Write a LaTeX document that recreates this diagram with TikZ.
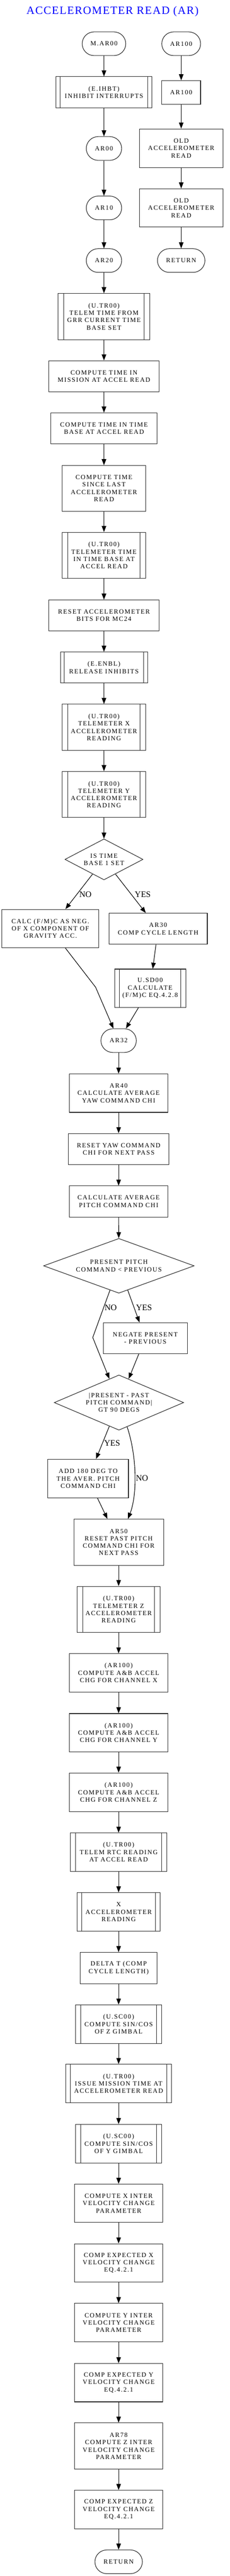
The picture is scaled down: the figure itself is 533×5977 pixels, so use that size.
\documentclass[tikz,border=0pt]{standalone}
\usepackage{fontspec}
\setmainfont{Liberation Serif}[LetterSpace=13]
\newfontfamily\lbfamily{Liberation Serif}
\newfontfamily\ttlfamily{Liberation Serif}[LetterSpace=7]
\usetikzlibrary{arrows.meta,shapes.geometric}
\definecolor{bord}{RGB}{40,40,40}
\definecolor{ttl}{RGB}{0,0,255}
\newcommand\bxfont{\fontsize{15}{17.1}\selectfont}
\newcommand\lbfont{\lbfamily\fontsize{19.5}{22}\selectfont}
\newcommand\ttlfont{\ttlfamily\fontsize{26}{30}\selectfont}
\tikzset{
  nbase/.style={draw=bord, line width=1.3pt, align=center, inner sep=0pt, font=\bxfont, text=black},
  pbox/.style={nbase, rectangle},
  tnode/.style={nbase, rectangle, rounded corners=27.5pt, minimum height=55pt},
  subr/.style={nbase, rectangle, path picture={
    \draw[bord, line width=1.3pt]
      ([xshift=#1]path picture bounding box.north west) -- ([xshift=#1]path picture bounding box.south west)
      ([xshift=-#1]path picture bounding box.north east) -- ([xshift=-#1]path picture bounding box.south east);}},
  dnode/.style={nbase, diamond},
  arr/.style={-{Triangle[length=14pt,width=10.5pt]}, line width=1.3pt, black},
  lab/.style={font=\lbfont, inner sep=0pt, text=black},
}
\begin{document}
\begin{tikzpicture}[x=1pt,y=-1pt]
\fill[white] (0,0) rectangle (533,5977);
\useasboundingbox (0,0) rectangle (533,5977);

\node[font=\ttlfont, text=ttl, anchor=base, inner sep=0pt] (title) at (261,32.3) {ACCELEROMETER READ (AR)};

% left column
\node[tnode, minimum width=101pt] (mar00) at (241,101.5) {M.AR00};
\node[subr=9pt, minimum width=222pt, minimum height=72pt] (ihbt) at (241,214) {(E.IHBT)\\INHIBIT INTERRUPTS};
\node[tnode, minimum width=82pt] (ar00) at (241,344.5) {AR00};
\node[tnode, minimum width=82pt] (ar10) at (241,482.5) {AR10};
\node[tnode, minimum width=82pt] (ar20) at (241,604.5) {AR20};
\node[subr=13pt, minimum width=212pt, minimum height=107pt] (telem1) at (241,734.5) {(U.TR00)\\TELEM TIME FROM\\GRR CURRENT TIME\\BASE SET};
\node[pbox, minimum width=256pt, minimum height=72pt] (cmis) at (241,873) {COMPUTE TIME IN\\MISSION AT ACCEL READ};
\node[pbox, minimum width=246pt, minimum height=72pt] (ctb) at (241,994) {COMPUTE TIME IN TIME\\BASE AT ACCEL READ};
\node[pbox, minimum width=194pt, minimum height=106pt] (csince) at (241,1133) {COMPUTE TIME\\SINCE LAST\\ACCELEROMETER\\READ};
\node[subr=13.5pt, minimum width=194pt, minimum height=107pt] (telem2) at (241,1288.5) {(U.TR00)\\TELEMETER TIME\\IN TIME BASE AT\\ACCEL READ};
\node[pbox, minimum width=256pt, minimum height=72pt] (reset) at (241,1428) {RESET ACCELEROMETER\\BITS FOR MC24};
\node[subr=9pt, minimum width=202pt, minimum height=72pt] (enbl) at (241,1549) {(E.ENBL)\\RELEASE INHIBITS};
\node[subr=13.5pt, minimum width=194pt, minimum height=107pt] (telx) at (241,1687.5) {(U.TR00)\\TELEMETER X\\ACCELEROMETER\\READING};
\node[subr=13.5pt, minimum width=194pt, minimum height=107pt] (tely) at (241,1843.5) {(U.TR00)\\TELEMETER Y\\ACCELEROMETER\\READING};
\node[dnode, aspect=1.9, minimum width=181pt, minimum height=95pt] (dtb) at (241,1994) {IS TIME\\BASE 1 SET};
\node[pbox, minimum width=224pt, minimum height=89pt] (calc) at (116.7,2154.5) {CALC (F/M)C AS NEG.\\OF X COMPONENT OF\\GRAVITY ACC.};
\node[pbox, minimum width=228pt, minimum height=72pt] (ar30) at (366.5,2155) {AR30\\COMP CYCLE LENGTH};
\node[subr=11pt, minimum width=165pt, minimum height=89pt] (usd) at (348,2293) {U.SD00\\CALCULATE\\(F/M)C EQ.4.2.8};
\node[tnode, minimum width=82pt] (ar32) at (275,2414.5) {AR32};

% right column
\node[tnode, minimum width=90pt] (ar100t) at (420,101.5) {AR100};
\node[pbox, minimum width=90pt, minimum height=55pt] (ar100b) at (420,214.5) {AR100};
\node[pbox, minimum width=194pt, minimum height=90pt] (old1) at (420,344) {OLD\\ACCELEROMETER\\READ};
\node[pbox, minimum width=194pt, minimum height=89pt] (old2) at (420,482.5) {OLD\\ACCELEROMETER\\READ};
\node[tnode, minimum width=110pt] (ret1) at (420,604.5) {RETURN};

% lower column
\node[pbox, minimum width=228pt, minimum height=89pt] (ar40) at (275,2536.3) {AR40\\CALCULATE AVERAGE\\YAW COMMAND CHI};
\node[pbox, minimum width=234pt, minimum height=72pt] (resyaw) at (275,2666) {RESET YAW COMMAND\\CHI FOR NEXT PASS};
\node[pbox, minimum width=228pt, minimum height=72pt] (calcp) at (275,2787.7) {CALCULATE AVERAGE\\PITCH COMMAND CHI};
\node[dnode, aspect=2.75, minimum width=349pt, minimum height=127pt] (dpp) at (275.5,2937) {PRESENT PITCH\\COMMAND < PREVIOUS};
\node[pbox, minimum width=195pt, minimum height=72pt] (neg) at (336.7,3105) {NEGATE PRESENT\\- PREVIOUS};
\node[dnode, aspect=2.34, minimum width=300pt, minimum height=128pt] (d90) at (275.7,3254.3) {|PRESENT - PAST\\PITCH COMMAND|\\GT 90 DEGS};
\node[pbox, minimum width=187pt, minimum height=89.8pt] (add180) at (204.2,3430.7) {ADD 180 DEG TO\\THE AVER. PITCH\\COMMAND CHI};
\node[pbox, minimum width=208pt, minimum height=107pt] (ar50) at (275,3578.2) {AR50\\RESET PAST PITCH\\COMMAND CHI FOR\\NEXT PASS};
\node[subr=13.3pt, minimum width=193pt, minimum height=107pt] (telz) at (275,3734.3) {(U.TR00)\\TELEMETER Z\\ACCELEROMETER\\READING};
\node[pbox, minimum width=228pt, minimum height=89pt] (abx) at (275,3881.4) {(AR100)\\COMPUTE A\&B ACCEL\\CHG FOR CHANNEL X};
\node[pbox, minimum width=228pt, minimum height=89pt] (aby) at (275,4020.3) {(AR100)\\COMPUTE A\&B ACCEL\\CHG FOR CHANNEL Y};
\node[pbox, minimum width=228pt, minimum height=90pt] (abz) at (275,4158.7) {(AR100)\\COMPUTE A\&B ACCEL\\CHG FOR CHANNEL Z};
\node[subr=11.3pt, minimum width=222.7pt, minimum height=89pt] (rtc) at (275,4297.4) {(U.TR00)\\TELEM RTC READING\\AT ACCEL READ};
\node[subr=11pt, minimum width=193pt, minimum height=89.7pt] (xacc) at (275,4436.3) {X\\ACCELEROMETER\\READING};
\node[pbox, minimum width=178pt, minimum height=72.4pt] (delta) at (275,4566.3) {DELTA T (COMP\\CYCLE LENGTH)};
\node[subr=11.3pt, minimum width=199pt, minimum height=89.3pt] (scz) at (275,4696.5) {(U.SC00)\\COMPUTE SIN/COS\\OF Z GIMBAL};
\node[subr=11.3pt, minimum width=246pt, minimum height=89.6pt] (issue) at (275,4834.5) {(U.TR00)\\ISSUE MISSION TIME AT\\ACCELEROMETER READ};
\node[subr=11.3pt, minimum width=199pt, minimum height=89.3pt] (scy) at (275,4973.7) {(U.SC00)\\COMPUTE SIN/COS\\OF Y GIMBAL};
\node[pbox, minimum width=204.3pt, minimum height=89pt] (cxi) at (275,5112.2) {COMPUTE X INTER\\VELOCITY CHANGE\\PARAMETER};
\node[pbox, minimum width=204.3pt, minimum height=89pt] (cex) at (275,5250.6) {COMP EXPECTED X\\VELOCITY CHANGE\\EQ.4.2.1};
\node[pbox, minimum width=204.3pt, minimum height=89.6pt] (cyi) at (275,5389.3) {COMPUTE Y INTER\\VELOCITY CHANGE\\PARAMETER};
\node[pbox, minimum width=204.3pt, minimum height=89pt] (cey) at (275,5528.4) {COMP EXPECTED Y\\VELOCITY CHANGE\\EQ.4.2.1};
\node[pbox, minimum width=204.3pt, minimum height=107pt] (czi) at (275,5675.3) {AR78\\COMPUTE Z INTER\\VELOCITY CHANGE\\PARAMETER};
\node[pbox, minimum width=204.3pt, minimum height=89.7pt] (cez) at (275,5822.9) {COMP EXPECTED Z\\VELOCITY CHANGE\\EQ.4.2.1};
\node[tnode, minimum width=110pt] (ret2) at (275,5944) {RETURN};

% labels
\node[lab] (lno1) at (198,2075) {NO};
\node[lab] (lyes1) at (331,2075) {YES};
\node[lab] (lno2) at (256.7,3034) {NO};
\node[lab] (lyes2) at (333.8,3034) {YES};
\node[lab] (lyes3) at (260,3348) {YES};
\node[lab] (lno3) at (329.2,3430) {NO};

% bend points
\coordinate (k1) at (221.7,2290.7);
\coordinate (k2) at (215,3103.3);

% straight connectors
\foreach \a/\b in {mar00/ihbt, ihbt/ar00, ar00/ar10, ar10/ar20, ar20/telem1, telem1/cmis, cmis/ctb,
  ctb/csince, csince/telem2, telem2/reset, reset/enbl, enbl/telx, telx/tely, tely/dtb,
  ar100t/ar100b, ar100b/old1, old1/old2, old2/ret1,
  dtb/calc, dtb/ar30, ar30/usd, usd/ar32,
  ar32/ar40, ar40/resyaw, resyaw/calcp, calcp/dpp, dpp/neg, neg/d90, d90/add180, add180/ar50,
  ar50/telz, telz/abx, abx/aby, aby/abz, abz/rtc, rtc/xacc, xacc/delta, delta/scz, scz/issue,
  issue/scy, scy/cxi, cxi/cex, cex/cyi, cyi/cey, cey/czi, czi/cez, cez/ret2}
  \draw[arr] (\a) -- (\b);

\draw[arr] (calc) -- (k1) -- (ar32);
\draw[arr] (dpp) -- (k2) -- (d90);
\draw[arr] (d90) .. controls (318,3380) and (318,3470) .. (ar50);
\end{tikzpicture}
\end{document}
